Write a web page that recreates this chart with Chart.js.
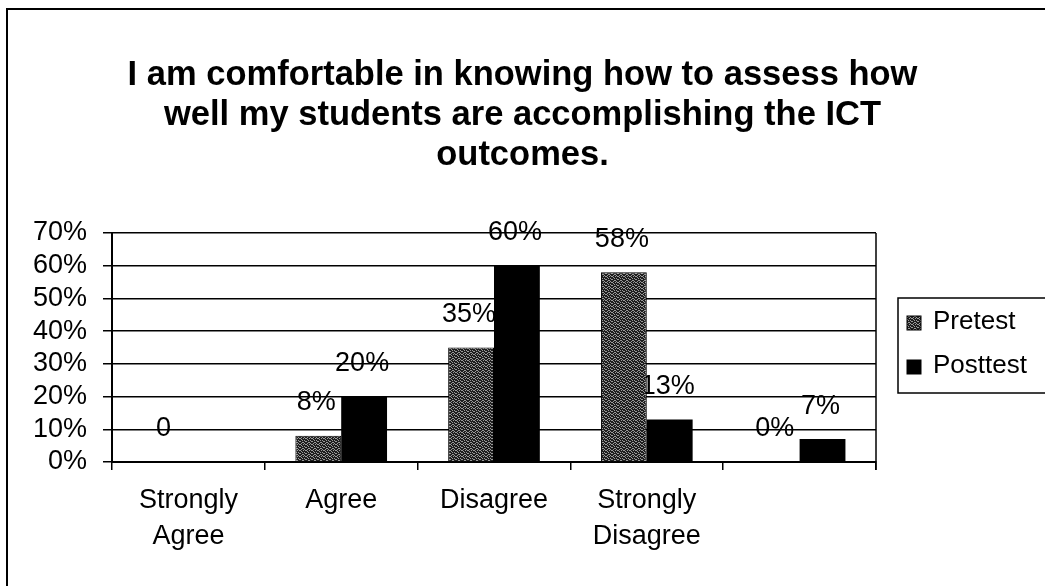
<!DOCTYPE html>
<html>
<head>
<meta charset="utf-8">
<script src="https://cdn.jsdelivr.net/npm/chart.js@4"></script>
<style>
  html, body { margin: 0; padding: 0; background: #fff; }
  #wrap { width: 1045px; height: 586px; }
</style>
</head>
<body>
<div id="wrap"><canvas id="c" width="1045" height="586"></canvas></div>
<script>
// ---- data ----
const titleLines = [
  'I am comfortable in knowing how to assess how',
  'well my students are accomplishing the ICT',
  'outcomes.'
];
const categories = [['Strongly', 'Agree'], 'Agree', 'Disagree', ['Strongly', 'Disagree'], ''];
const seriesNames = ['Pretest', 'Posttest'];
const pretest = [0, 8, 35, 58, 0];
const posttest = [0, 20, 60, 13, 7];
const pretestLabels = ['0', '8%', '35%', '58%', '0%'];
const posttestLabels = ['', '20%', '60%', '13%', '7%'];
const yMax = 70;
const yStep = 10;

const FONT = '"Liberation Sans", Arial, Helvetica, sans-serif';

// stippled gray pattern for Pretest
function makePattern() {
  const p = document.createElement('canvas');
  p.width = 6; p.height = 6;
  const g = p.getContext('2d');
  g.fillStyle = '#1e1e1e';
  g.fillRect(0, 0, 6, 6);
  g.fillStyle = '#9a9a9a';
  const dots = [[0,0],[3,0],[1,1],[4,2],[2,2],[5,3],[0,3],[3,4],[1,5],[4,5],[5,0],[2,4]];
  dots.forEach(([x, y]) => g.fillRect(x, y, 1, 1));
  return g.createPattern(p, 'repeat');
}
const pretestFill = makePattern();

const allLabels = [pretestLabels, posttestLabels];

const labelPlugin = {
  id: 'valueLabels',
  beforeDatasetsDraw(chart) {
    const ctx = chart.ctx;
    ctx.save();
    ctx.font = '27px ' + FONT;
    ctx.fillStyle = '#000';
    ctx.textAlign = 'center';
    ctx.textBaseline = 'middle';
    chart.data.datasets.forEach((ds, di) => {
      const meta = chart.getDatasetMeta(di);
      meta.data.forEach((el, i) => {
        const t = allLabels[di][i];
        if (t) ctx.fillText(t, el.x - 2, el.y - 33);
      });
    });
    ctx.restore();
  }
};

const framePlugin = {
  id: 'frame',
  afterDraw(chart) {
    const ctx = chart.ctx;
    const a = chart.chartArea;
    ctx.save();
    // right border of plot
    ctx.strokeStyle = '#000';
    ctx.lineWidth = 1.5;
    ctx.beginPath();
    ctx.moveTo(a.right, a.top);
    ctx.lineTo(a.right, a.bottom + 8);
    ctx.stroke();
    // outer border
    ctx.lineWidth = 2;
    ctx.strokeRect(7, 9, 1200, 1200);
    // legend box
    ctx.lineWidth = 1.5;
    ctx.strokeRect(898, 298, 300, 95);
    const rows = [323, 367];
    ctx.font = '26px ' + FONT;
    ctx.textAlign = 'left';
    ctx.textBaseline = 'middle';
    chart.data.datasets.forEach((ds, i) => {
      ctx.fillStyle = ds.backgroundColor;
      ctx.fillRect(907, rows[i] - 7, 14, 14);
      ctx.strokeStyle = '#000';
      ctx.lineWidth = 1;
      ctx.strokeRect(907, rows[i] - 7, 14, 14);
      ctx.fillStyle = '#000';
      ctx.fillText(ds.label, 933, rows[i] - 1);
    });
    ctx.restore();
  }
};

new Chart(document.getElementById('c'), {
  type: 'bar',
  data: {
    labels: categories,
    datasets: [
      { label: seriesNames[0], data: pretest, backgroundColor: pretestFill, borderColor: '#000', borderWidth: 1, categoryPercentage: 0.6, barPercentage: 1.0 },
      { label: seriesNames[1], data: posttest, backgroundColor: '#000', borderColor: '#000', borderWidth: 0, categoryPercentage: 0.6, barPercentage: 1.0 }
    ]
  },
  options: {
    responsive: false,
    animation: false,
    devicePixelRatio: 1,
    layout: { padding: 0 },
    plugins: {
      legend: { display: false },
      tooltip: { enabled: false },
      title: {
        display: true,
        text: titleLines,
        color: '#000',
        font: { family: FONT, size: 34.5, weight: 'bold', lineHeight: 1.15 },
        padding: { top: 56, bottom: 58 }
      }
    },
    scales: {
      x: {
        grid: { offset: true, drawOnChartArea: false, drawTicks: true, tickLength: 8, color: '#000', lineWidth: 1.5 },
        border: { display: true, color: '#000', width: 2 },
        ticks: { color: '#000', font: { family: FONT, size: 27, lineHeight: 1.33 }, padding: 13, maxRotation: 0, autoSkip: false },
        afterFit(s) { s.height = 124; }
      },
      y: {
        min: 0, max: yMax,
        grid: { color: '#000', lineWidth: 1.5, tickLength: 9, drawTicks: true },
        border: { display: true, color: '#000', width: 2 },
        ticks: { stepSize: yStep, autoSkip: false, color: '#000', padding: 16, font: { family: FONT, size: 27, lineHeight: 1 }, callback: v => v + '%' },
        afterFit(s) { s.width = 112; }
      },
      y2: {
        position: 'right',
        display: true,
        grid: { display: false, drawTicks: false },
        border: { display: false },
        ticks: { display: false },
        afterFit(s) { s.width = 169; }
      }
    }
  },
  plugins: [labelPlugin, framePlugin]
});
</script>
</body>
</html>
